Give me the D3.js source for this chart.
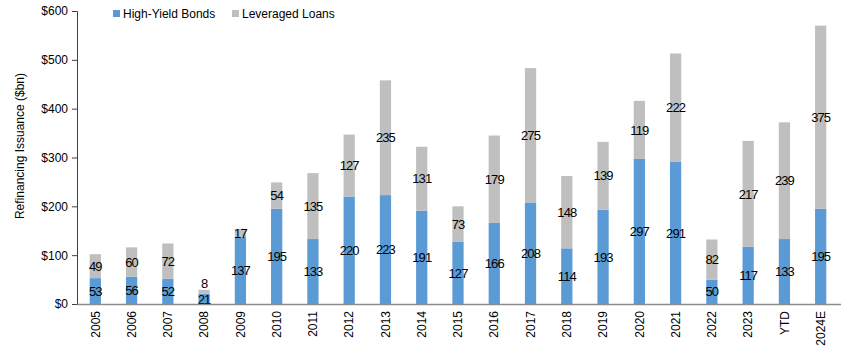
<!DOCTYPE html>
<html>
<head>
<meta charset="utf-8">
<script src="https://cdn.jsdelivr.net/npm/d3@7"></script>
<style>
  body { margin: 0; background: #fff; }
  svg { font-family: "Liberation Sans", Arial, sans-serif; }
</style>
</head>
<body>
<svg id="chart" width="852" height="354"></svg>
<script>
const categories = ['2005', '2006', '2007', '2008', '2009', '2010', '2011', '2012', '2013', '2014', '2015', '2016', '2017', '2018', '2019', '2020', '2021', '2022', '2023', 'YTD', '2024E']
const highYield = [53, 56, 52, 21, 137, 195, 133, 220, 223, 191, 127, 166, 208, 114, 193, 297, 291, 50, 117, 133, 195]
const levLoans = [49, 60, 72, 8, 17, 54, 135, 127, 235, 131, 73, 179, 275, 148, 139, 119, 222, 82, 217, 239, 375]
const yTicks = [0, 100, 200, 300, 400, 500, 600]
const seriesNames = ['High-Yield Bonds', 'Leveraged Loans']
const colors = ['#5b9bd5', '#bfbfbf']

const svg = d3.select('#chart')

const x = d3.scaleBand().domain(categories).range([77, 839]).paddingInner(0.69).paddingOuter(0.35)
const y = d3.scaleLinear().domain([0, 600]).range([304, 11])

let rows = categories.map(function (c, i) {
    return { cat: c, hy: highYield[i], ll: levLoans[i] }
})
let stacked = d3.stack().keys(['hy', 'll'])(rows)

// bars
stacked.forEach(function (s, si) {
    svg.append('g').selectAll('rect').data(s).enter().append('rect')
        .attr('x', d => x(d.data.cat))
        .attr('width', x.bandwidth())
        .attr('y', d => y(d[1]))
        .attr('height', d => y(d[0]) - y(d[1]))
        .attr('fill', colors[si])
})

// value labels (tiny segments get their label above the bar)
stacked.forEach(function (s) {
    svg.append('g').selectAll('text').data(s).enter().append('text')
        .attr('x', d => x(d.data.cat) + x.bandwidth() / 2)
        .attr('y', function (d) {
            let h = y(d[0]) - y(d[1])
            if (h < 6) { return y(d[1]) - 7 }
            return (y(d[0]) + y(d[1])) / 2
        })
        .attr('dy', '0.36em')
        .attr('text-anchor', 'middle')
        .attr('font-size', '13px')
        .attr('letter-spacing', '-0.9px')
        .attr('fill', '#000')
        .text(d => d[1] - d[0])
})

// y axis
const yAxis = svg.append('g').attr('transform', 'translate(77,0)')
    .call(d3.axisLeft(y).tickValues(yTicks).tickSize(5).tickPadding(4).tickFormat(d => '$' + d))
yAxis.select('.domain').attr('stroke', '#404040')
yAxis.selectAll('.tick line').attr('stroke', '#404040')
yAxis.selectAll('text').attr('font-size', '12px').attr('fill', '#000').attr('font-family', null)

// x axis
const xAxis = svg.append('g').attr('transform', 'translate(0,304)')
    .call(d3.axisBottom(x).tickSize(0).tickPadding(0))
xAxis.select('.domain').attr('stroke', '#8c8c8c').attr('stroke-width', 1.5).attr('d', 'M77,0.5H841')
xAxis.selectAll('text')
    .attr('font-size', '12px').attr('fill', '#000').attr('font-family', null)
    .attr('transform', 'rotate(-90)')
    .attr('text-anchor', 'end')
    .attr('x', -7).attr('y', 0).attr('dy', '0.35em')

// y axis title
svg.append('text')
    .attr('transform', 'translate(20,146) rotate(-90)')
    .attr('text-anchor', 'middle')
    .attr('dy', '0.35em')
    .attr('font-size', '12px')
    .text('Refinancing Issuance ($bn)')

// legend
const legendX = [113, 232]
seriesNames.forEach(function (n, i) {
    svg.append('rect').attr('x', legendX[i]).attr('y', 10).attr('width', 7).attr('height', 7).attr('fill', colors[i])
    svg.append('text').attr('x', legendX[i] + 10).attr('y', 13.5).attr('dy', '0.35em')
        .attr('font-size', '12px').text(n)
})
</script>
</body>
</html>
